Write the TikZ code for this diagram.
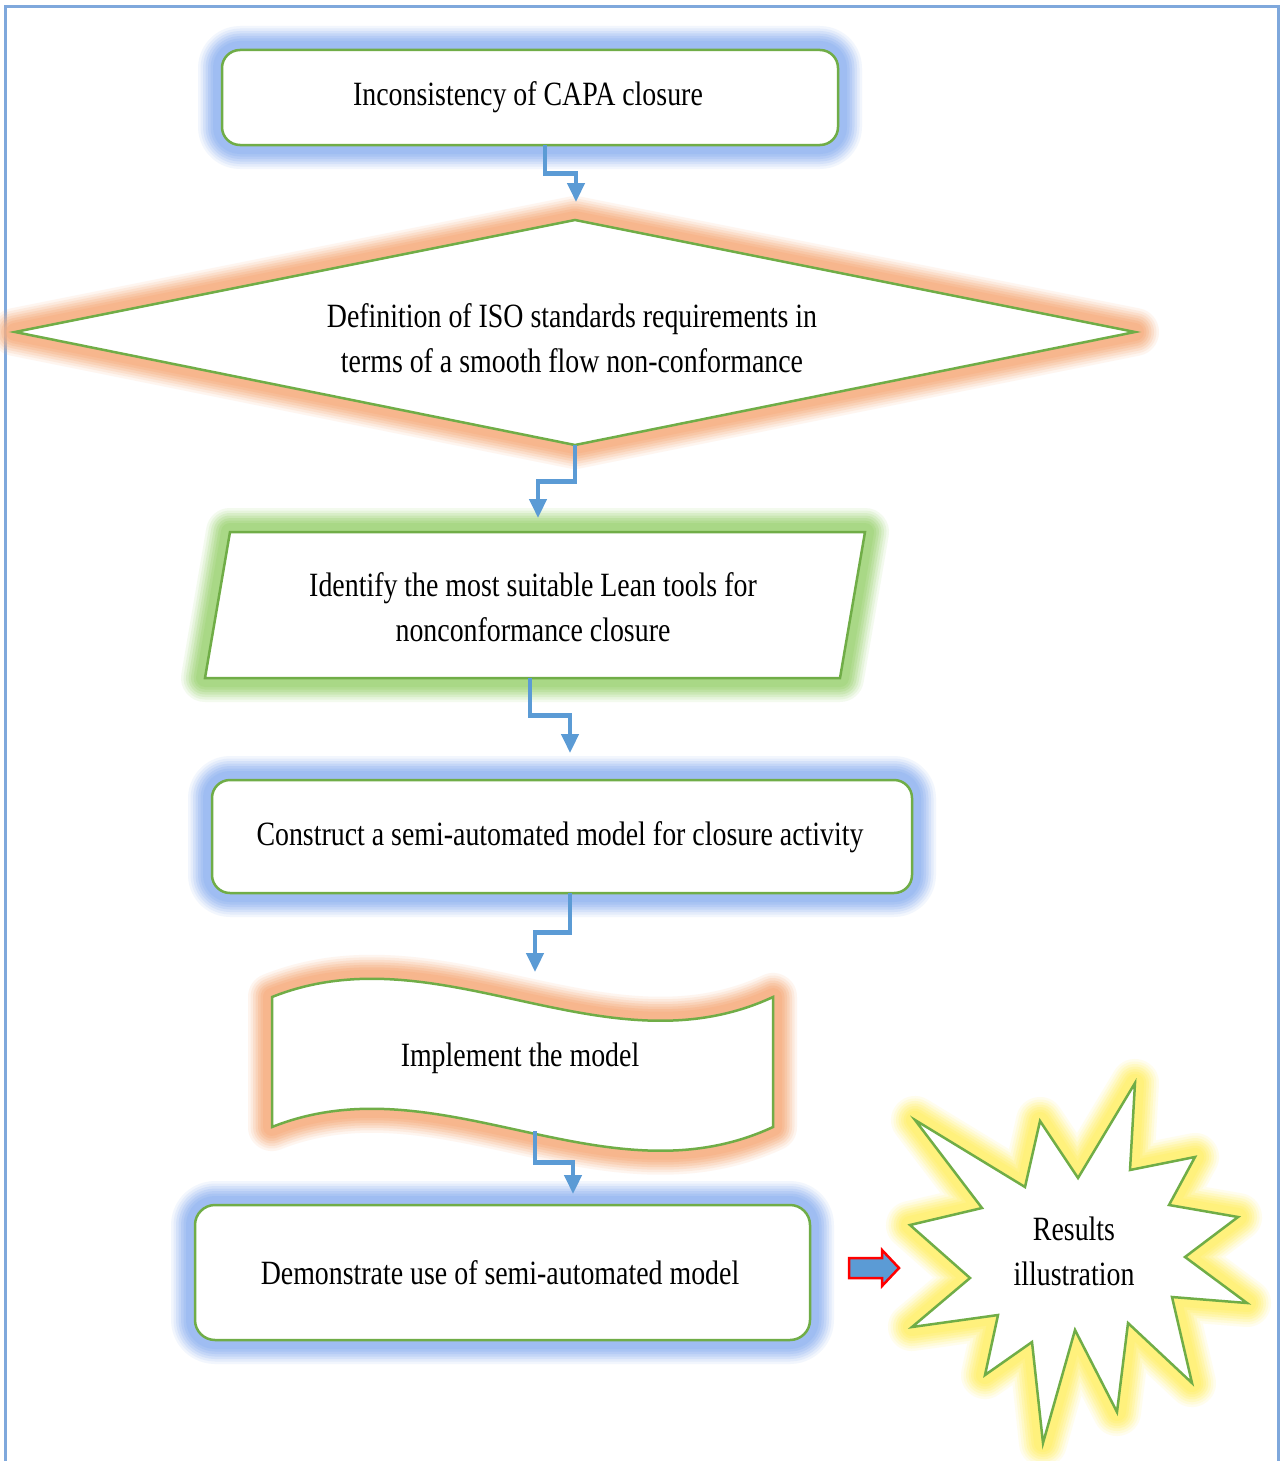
\documentclass[tikz,border=0pt]{standalone}
\usepackage{fontspec}
\setmainfont{Liberation Serif}[FakeStretch=0.82]
\usetikzlibrary{arrows.meta,calc}

\definecolor{edgegreen}{HTML}{70AD47}
\definecolor{flowblue}{HTML}{5B9BD5}
\definecolor{glowblue}{HTML}{96B8F2}
\definecolor{gloworange}{HTML}{F7B083}
\definecolor{glowgreen}{HTML}{A2D67B}
\definecolor{glowyellow}{HTML}{FFF170}
\definecolor{frameblue}{HTML}{7FA8DC}

\tikzset{
  glow/.style={
    preaction={draw=#1,line width=48pt,opacity=0.12,line join=round},
    preaction={draw=#1,line width=43pt,opacity=0.15,line join=round},
    preaction={draw=#1,line width=38pt,opacity=0.2,line join=round},
    preaction={draw=#1,line width=33pt,opacity=0.25,line join=round},
    preaction={draw=#1,line width=28pt,opacity=0.3,line join=round},
    preaction={draw=#1,line width=23pt,opacity=0.4,line join=round},
    preaction={draw=#1,line width=18pt,opacity=0.5,line join=round}},
  shapebox/.style={draw=edgegreen,fill=white,line width=2.5pt},
  label/.style={align=center,font=\fontsize{34}{45}\selectfont,inner sep=0pt},
  flow/.style={draw=flowblue,line width=4.5pt,-{Triangle[width=17pt,length=19pt]}},
}

\begin{document}
\begin{tikzpicture}[x=1pt,y=-1pt]
\useasboundingbox (0,0) rectangle (1282,1461);
\fill[white] (0,0) rectangle (1282,1461);
\draw[frameblue,line width=3pt] (5,7) rectangle (1278,1490);

% problem statement
\path[shapebox,glow=glowblue,rounded corners=18pt] (222,50) rectangle (838,145);
\node[label] (t1) at (528,97) {Inconsistency of CAPA closure};

% ISO requirements decision
\path[shapebox,glow=gloworange] (15,332) -- (575,220) -- (1135,332) -- (575,445) -- cycle;
\node[label] (t2) at (572,338) {Definition of ISO standards requirements in\\terms of a smooth flow non-conformance};

% Lean tools input
\path[shapebox,glow=glowgreen] (230,532) -- (865,532) -- (840,678) -- (205,678) -- cycle;
\node[label] (t3) at (533,607) {Identify the most suitable Lean tools for\\nonconformance closure};

% model construction
\path[shapebox,glow=glowblue,rounded corners=18pt] (212,780) rectangle (912,893);
\node[label] (t4) at (560,837) {Construct a semi-automated model for closure activity};

% implementation (tape)
\path[shapebox,glow=gloworange] (272,997) .. controls (440,930) and (605,1075) .. (773,997)
  -- (773,1127) .. controls (605,1205) and (440,1060) .. (272,1127) -- cycle;
\node[label] (t5) at (520,1058) {Implement the model};

% demonstration
\path[shapebox,glow=glowblue,rounded corners=20pt] (195,1205) rectangle (810,1340);
\node[label] (t6) at (500,1273) {Demonstrate use of semi-automated model};

% block arrow towards results
\path[fill=flowblue,draw=red,line width=2.5pt,line join=miter]
  (849,1258) -- (882,1258) -- (882,1250) -- (899,1268) -- (882,1286) -- (882,1278) -- (849,1278) -- cycle;

% results starburst
\path[shapebox,glow=glowyellow,line join=miter]
  (915,1120) -- (1025,1187) -- (1040,1121) -- (1078,1178) -- (1135,1083) -- (1130,1170)
  -- (1195,1157) -- (1169,1205) -- (1238,1217) -- (1185,1257) -- (1247,1303) -- (1172,1297)
  -- (1192,1383) -- (1128,1323) -- (1117,1412) -- (1075,1330) -- (1043,1443) -- (1032,1342)
  -- (985,1375) -- (998,1315) -- (912,1327) -- (970,1278) -- (910,1225) -- (982,1208) -- cycle;
\node[label] (t7) at (1074,1251) {Results\\illustration};

% connector end points
\coordinate (s1out) at (545,145);
\coordinate (s2in) at (576,202);
\coordinate (s2out) at (575,445);
\coordinate (s3in) at (538,518);
\coordinate (s3out) at (530,678);
\coordinate (s4in) at (570,753);
\coordinate (s4out) at (570,893);
\coordinate (s5in) at (535,972);
\coordinate (s5out) at (535,1131);
\coordinate (s6in) at (573,1194);

\draw[flow] (s1out) |- ($(s1out)!.5!(s2in)$) -| (s2in);
\draw[flow] (s2out) |- ($(s2out)!.5!(s3in)$) -| (s3in);
\draw[flow] (s3out) |- ($(s3out)!.5!(s4in)$) -| (s4in);
\draw[flow] (s4out) |- ($(s4out)!.5!(s5in)$) -| (s5in);
\draw[flow] (s5out) |- ($(s5out)!.5!(s6in)$) -| (s6in);
\end{tikzpicture}
\end{document}
